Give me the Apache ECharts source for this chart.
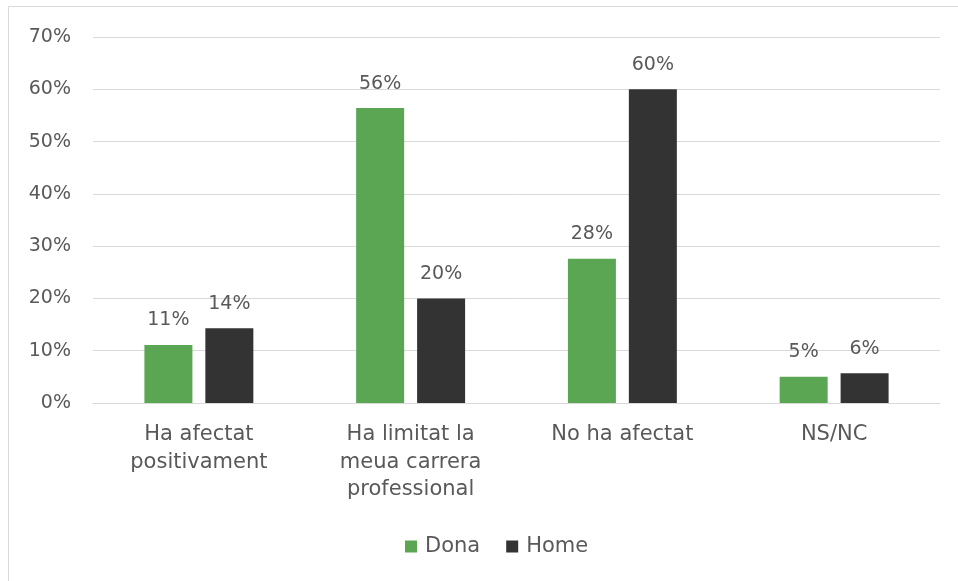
<!DOCTYPE html>
<html><head><meta charset="utf-8">
<script src="https://cdn.jsdelivr.net/npm/echarts@6/dist/echarts.min.js"></script>
<style>html,body{margin:0;padding:0;background:#fff}#c{width:958px;height:581px}</style>
</head><body><div id="c"></div>
<script>
const categories = ['Ha afectat\npositivament', 'Ha limitat la\nmeua carrera\nprofessional', 'No ha afectat', 'NS/NC'];
const dona = [11.1, 56.4, 27.6, 5.0];
const home = [14.3, 20.0, 60.0, 5.7];
const yTicks = [0, 10, 20, 30, 40, 50, 60, 70];
const seriesNames = ['Dona', 'Home'];

const font = '"DejaVu Sans", sans-serif';
const txt = '#595959';
const chart = echarts.init(document.getElementById('c'));
const lbl = {show: true, position: 'top', distance: 15, color: txt, fontSize: 19, fontFamily: font,
  formatter: p => Math.round(p.value) + '%'};
chart.setOption({
  animation: false,
  graphic: [{type: 'rect', shape: {x: 8.5, y: 6.5, width: 1000, height: 700},
    style: {fill: 'none', stroke: '#d9d9d9', lineWidth: 1}, silent: true}],
  grid: {left: 93, right: 18, top: 37, bottom: 178, containLabel: false},
  legend: {bottom: 19, left: 400, itemWidth: 12, itemHeight: 12, itemGap: 26,
    icon: 'rect', textStyle: {color: txt, fontSize: 21, fontFamily: font, padding: [0, 0, 0, 3]}},
  xAxis: {type: 'category', data: categories,
    axisLine: {lineStyle: {color: '#d9d9d9'}}, axisTick: {show: false},
    axisLabel: {color: txt, fontSize: 21, fontFamily: font, lineHeight: 27.5, margin: 18, interval: 0}},
  yAxis: {type: 'value', min: 0, max: 70, interval: 10,
    axisLabel: {color: txt, fontSize: 19, fontFamily: font, margin: 22, formatter: v => yTicks.includes(v) ? v + '%' : ''},
    splitLine: {lineStyle: {color: '#d9d9d9'}}, axisLine: {show: false}, axisTick: {show: false}},
  series: [
    {name: seriesNames[0], type: 'bar', data: dona, itemStyle: {color: '#5BA652'},
      barWidth: 48, barGap: '27%', label: lbl},
    {name: seriesNames[1], type: 'bar', data: home, itemStyle: {color: '#333333'},
      barWidth: 48, label: lbl}
  ]
});
</script></body></html>
